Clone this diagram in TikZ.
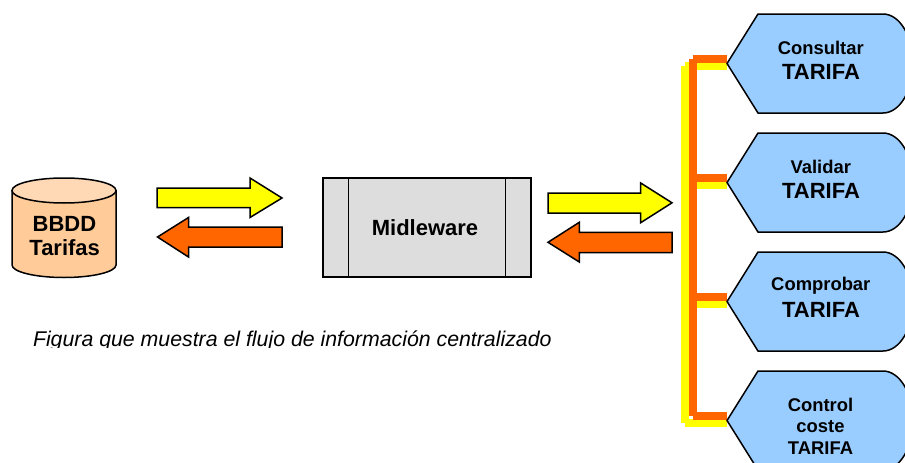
\documentclass[tikz,border=0pt]{standalone}
\usepackage{fontspec}
\setmainfont{Liberation Sans}
\usetikzlibrary{calc}
\definecolor{orangeC}{HTML}{FF6600}
\definecolor{yellowC}{HTML}{FFFF00}
\definecolor{blueC}{HTML}{99CCFF}
\definecolor{greyC}{HTML}{DDDDDD}
\definecolor{peachC}{HTML}{FFCC99}
\definecolor{peachL}{HTML}{FFD9B5}
\newcommand{\szA}{\fontsize{18.4}{22}\selectfont\bfseries}
\newcommand{\szB}{\fontsize{22}{25}\selectfont\bfseries}
\tikzset{
  outl/.style={draw=black,line width=1.5pt,line join=miter},
  yarrow/.style={outl,fill=yellowC},
  oarrow/.style={outl,fill=orangeC},
  tagshape/.style={outl,fill=blueC},
  lab/.style={inner sep=0pt,outer sep=0pt,text=black,align=center},
  ybus/.style={draw=yellowC,line width=7.5pt,line cap=butt},
  obus/.style={draw=orangeC,line width=8pt,line cap=butt},
}
\begin{document}
\begin{tikzpicture}[x=1pt,y=-1pt]
\useasboundingbox (0,0) rectangle (905,463);
\fill[white] (0,0) rectangle (905,463);
\clip (0,0) rectangle (905,463);

% bus coordinates
\foreach \n/\y in {1/63.5,2/182.5,3/301.5,4/420.5}{
  \coordinate (tip\n) at (727,\y);
  \coordinate (y\n) at (685,\y+2.5);
  \coordinate (o\n) at (693,\y-5);
}
% yellow bus
\draw[ybus] (y1) -- (y4);
\foreach \n in {1,2,3,4}{\draw[ybus] (y\n) -- (y\n -| tip\n);}
% orange bus
\draw[obus] (o1) -- (o4);
\foreach \n in {1,2,3,4}{\draw[obus] (o\n) -- (o\n -| tip\n);}

% tag shapes
\foreach \n in {1,2,3,4}{
  \draw[tagshape] (tip\n) -- ++(31,-49.5) -- ++(125,0)
     arc[start angle=-90,end angle=90,x radius=30,y radius=49.5]
     -- ++(-125,0) -- cycle;
}

\node[lab,font=\szA] (c1a) at (820.8,47.5) {Consultar};
\node[lab,font=\szB] (c1b) at (821,71.5) {TARIFA};
\node[lab,font=\szA] (c2a) at (820.8,166.5) {Validar};
\node[lab,font=\szB] (c2b) at (821,190.5) {TARIFA};
\node[lab,font=\szA] (c3a) at (820.8,286) {Comprobar};
\node[lab,font=\szB] (c3b) at (821,310) {TARIFA};
\node[lab,font=\szA] (c4a) at (820.5,405) {Control};
\node[lab,font=\szA] (c4b) at (820.5,427) {coste};
\node[lab,font=\szA] (c4c) at (820.5,448) {TARIFA};

% database
\draw[outl,fill=peachC] (12,190.5) -- (12,265)
  arc[start angle=180,end angle=360,x radius=52,y radius=-12.5]
  -- (116,190.5) -- cycle;
\draw[outl,fill=peachL] (64,190.5) ellipse [x radius=52,y radius=12.5];
\node[lab,font=\szB] (db1) at (64.5,223.5) {BBDD};
\node[lab,font=\szB] (db2) at (64.7,248) {Tarifas};

% middleware
\draw[outl,fill=greyC] (323,178) rectangle (531,277);
\draw[outl] (348.5,178) -- (348.5,277);
\draw[outl] (505.5,178) -- (505.5,277);
\node[lab,font=\szB] (mw) at (425,228) {Midleware};

% block arrows
\draw[yarrow] (157,188) -- (250,188) -- (250,178) -- (282,198) -- (250,217.5) -- (250,207.7) -- (157,207.7) -- cycle;
\draw[oarrow] (282,227) -- (188.5,227) -- (188.5,217.5) -- (157.5,237) -- (188.5,257) -- (188.5,247) -- (282,247) -- cycle;
\draw[yarrow] (548,193) -- (640.7,193) -- (640.7,183) -- (672,202.8) -- (640.7,222.7) -- (640.7,213) -- (548,213) -- cycle;
\draw[oarrow] (672,232.3) -- (579.3,232.3) -- (579.3,222.3) -- (548,242.3) -- (579.3,262) -- (579.3,252.5) -- (672,252.5) -- cycle;

% caption, cut at its baseline as in the picture
\begin{scope}
\clip (0,300) rectangle (905,347);
\node[inner sep=0pt,outer sep=0pt,anchor=base west,text=black,font=\fontsize{21.3}{25}\selectfont\itshape] (cap) at (33,346) {Figura que muestra el flujo de información centralizado};
\end{scope}
\end{tikzpicture}
\end{document}
